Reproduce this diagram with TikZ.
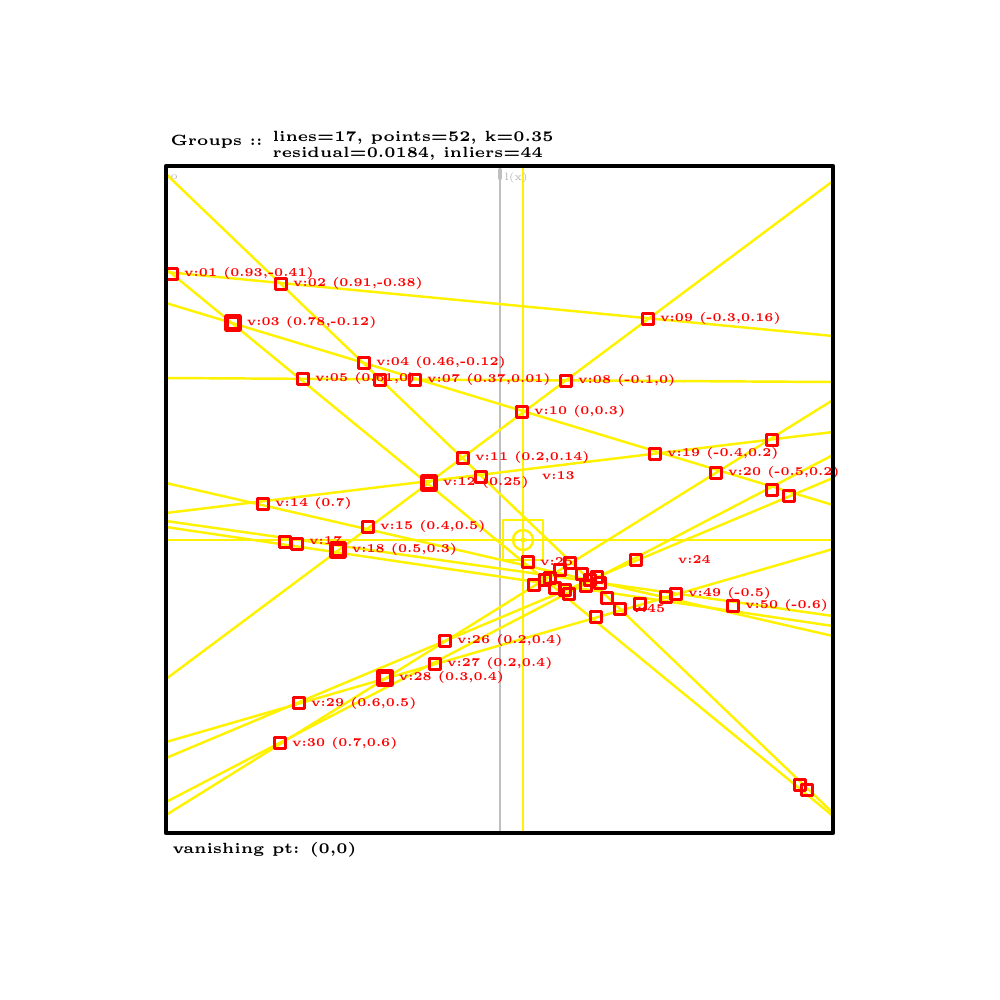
\documentclass[tikz,border=0pt]{standalone}
\tikzset{
  ray/.style={draw=yellow,line width=0.7pt},
  pt/.style={draw=red,line width=0.8pt,minimum size=1.1mm,inner sep=0pt,rectangle},
  bigpt/.style={pt,line width=1.2pt,minimum size=1.3mm},
  lbl/.style={text=red,font=\fontsize{3.4}{3.8}\selectfont\bfseries,inner sep=0.3pt,anchor=west},
  note/.style={font=\fontsize{4.2}{4.4}\selectfont\bfseries,inner sep=0pt,anchor=west,align=left},
}
\begin{document}
\begin{tikzpicture}[x=0.01cm,y=-0.01cm,line cap=round,line join=round]
\path[use as bounding box] (0,0) rectangle (1000,1000);
% frame corners
\coordinate (nw) at (166,166);
\coordinate (se) at (833,833);
% reference axis (grey) and centre axes (yellow)
\draw[black!25,line width=0.6pt] (500,166) -- (500,833);
\draw[black!25,line width=1.2pt] (500,170) -- (500,178);
\node[note,text=black!30,font=\fontsize{3}{3}\selectfont] (axlbl) at (504,178) {l(x)};
\node[note,text=black!30,font=\fontsize{3}{3}\selectfont] (cnlbl) at (170,177) {o};
% line end points on the frame
\coordinate (l1a) at (166,174); \coordinate (l1b) at (833,813);
\coordinate (l2a) at (166,269); \coordinate (l2b) at (833,816);
\coordinate (l3a) at (166,303); \coordinate (l3b) at (833,505);
\coordinate (l4a) at (166,272); \coordinate (l4b) at (833,336);
\coordinate (l5a) at (166,378); \coordinate (l5b) at (833,382);
\coordinate (l6a) at (166,679); \coordinate (l6b) at (833,181);
\coordinate (l7a) at (166,815); \coordinate (l7b) at (833,400);
\coordinate (l8a) at (166,513); \coordinate (l8b) at (833,432);
\coordinate (l9a) at (166,802); \coordinate (l9b) at (833,455);
\coordinate (l10a) at (166,758); \coordinate (l10b) at (833,478);
\coordinate (l11a) at (166,742); \coordinate (l11b) at (833,549);
\coordinate (l12a) at (166,483); \coordinate (l12b) at (833,636);
\coordinate (l13a) at (166,521); \coordinate (l13b) at (833,616);
\coordinate (l14a) at (166,527); \coordinate (l14b) at (833,626);
\coordinate (hza) at (166,540); \coordinate (hzb) at (833,540);
\coordinate (vta) at (523,166); \coordinate (vtb) at (523,833);
% fitted lines
\foreach \i in {1,...,14}
  \draw[ray] (l\i a) -- (l\i b);
\draw[ray] (hza) -- (hzb);
\draw[ray] (vta) -- (vtb);
% centre marker
\node[draw=yellow,line width=0.7pt,minimum size=4mm,inner sep=0pt] (cbox) at (523,540) {};
\node[draw=yellow,line width=0.7pt,circle,minimum size=2mm,inner sep=0pt] (cring) at (cbox.center) {};
\node[fill=yellow,circle,minimum size=0.5mm,inner sep=0pt] (cdot) at (cbox.center) {};
% intersection points
\foreach \n/\x/\y in {
  p1/172/274, p2/281/284, p4/364/363, p5/303/379, p6/380/380,
  p7/415/380, p8/566/381, p9/648/319, p10/522/412, p11/463/458,
  p13/481/477, p14/263/504, p15/368/527, p16/285/542, p17/297/544,
  p19/655/454, p20/716/473, p21/772/440, p22/772/490, p23/789/496,
  p24/636/560, p25/528/562, p26/445/641, p27/435/664, p29/299/703,
  p30/280/743, p31/800/785, p32/807/790, p33/534/585, p34/545/580,
  p35/550/578, p36/560/570, p37/570/563, p38/582/574, p39/590/580,
  p40/597/577, p41/600/583, p42/565/590, p43/569/594, p44/607/598,
  p45/620/609, p46/596/617, p47/640/604, p48/666/597, p49/676/594,
  p50/733/606, p51/586/586, p52/555/588}
  \node[pt] (\n) at (\x,\y) {};
\node[bigpt] (p3) at (233,323) {};
\node[bigpt] (p12) at (429,483) {};
\node[bigpt] (p18) at (338,550) {};
\node[bigpt] (p28) at (385,678) {};
% point labels
\node[lbl] at ([xshift=1pt]p1.east) {v:01 (0.93,-0.41)};
\node[lbl] at ([xshift=1pt]p2.east) {v:02 (0.91,-0.38)};
\node[lbl] at ([xshift=1pt]p3.east) {v:03 (0.78,-0.12)};
\node[lbl] at ([xshift=1pt]p4.east) {v:04 (0.46,-0.12)};
\node[lbl] at ([xshift=1pt]p5.east) {v:05 (0.61,0)};
\node[lbl] at ([xshift=1pt]p7.east) {v:07 (0.37,0.01)};
\node[lbl] at ([xshift=1pt]p8.east) {v:08 (-0.1,0)};
\node[lbl] at ([xshift=1pt]p9.east) {v:09 (-0.3,0.16)};
\node[lbl] at ([xshift=1pt]p10.east) {v:10 (0,0.3)};
\node[lbl] at ([xshift=1pt]p11.east) {v:11 (0.2,0.14)};
\node[lbl] at ([xshift=1pt]p12.east) {v:12 (0.25)};
\node[lbl] at (540,476) {v:13};
\node[lbl] at ([xshift=1pt]p14.east) {v:14 (0.7)};
\node[lbl] at ([xshift=1pt]p15.east) {v:15 (0.4,0.5)};
\node[lbl] at ([xshift=1pt,yshift=1pt]p17.east) {v:17};
\node[lbl] at ([xshift=1pt]p18.east) {v:18 (0.5,0.3)};
\node[lbl] at ([xshift=1pt]p19.east) {v:19 (-0.4,0.2)};
\node[lbl] at ([xshift=1pt]p20.east) {v:20 (-0.5,0.2)};
\node[lbl] at (676,560) {v:24};
\node[lbl] at ([xshift=1pt]p25.east) {v:25};
\node[lbl] at ([xshift=1pt]p26.east) {v:26 (0.2,0.4)};
\node[lbl] at ([xshift=1pt]p27.east) {v:27 (0.2,0.4)};
\node[lbl] at ([xshift=1pt]p28.east) {v:28 (0.3,0.4)};
\node[lbl] at ([xshift=1pt]p29.east) {v:29 (0.6,0.5)};
\node[lbl] at ([xshift=1pt]p30.east) {v:30 (0.7,0.6)};
\node[lbl] at ([xshift=1pt]p45.east) {v:45};
\node[lbl] at ([xshift=1pt]p49.east) {v:49 (-0.5)};
\node[lbl] at ([xshift=1pt]p50.east) {v:50 (-0.6)};
% frame
\draw[black,line width=1.3pt] (nw) rectangle (se);
% captions
\node[note] (ttl) at (170,142) {Groups ::};
\node[note] (ttlb) at (272,146) {lines=17, points=52, k=0.35\\ residual=0.0184, inliers=44};
\node[note] (foot) at (172,850) {vanishing pt: (0,0)};
\end{tikzpicture}
\end{document}
